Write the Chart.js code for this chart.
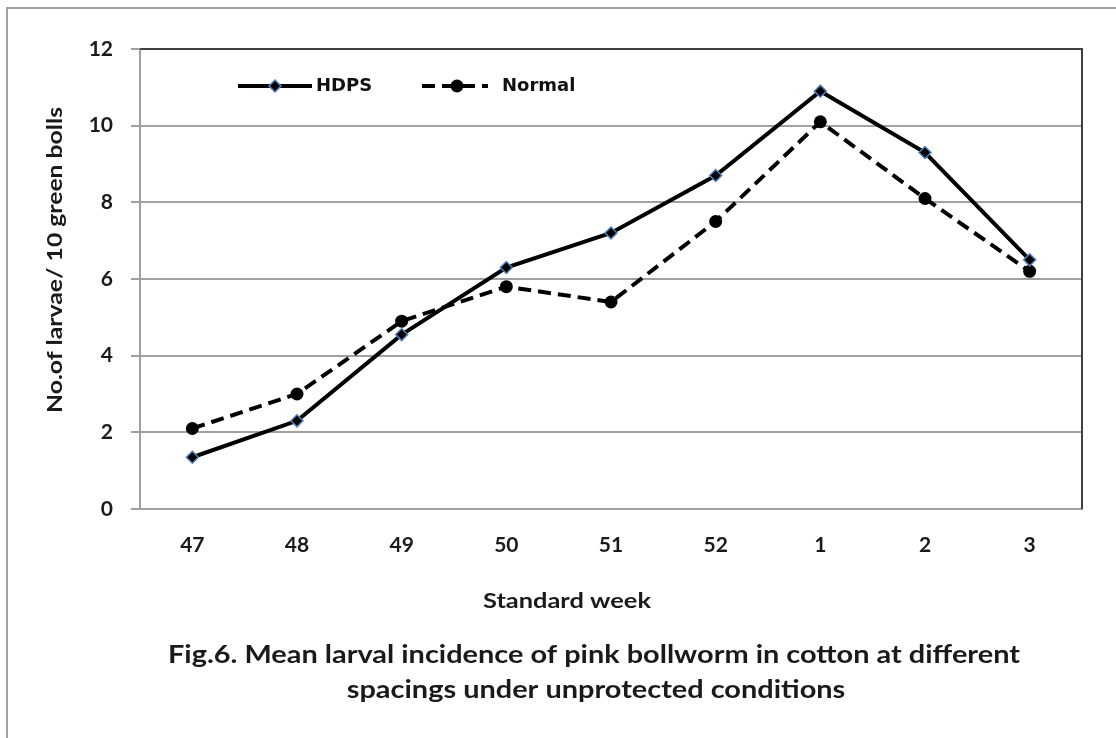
<!DOCTYPE html>
<html>
<head>
<meta charset="utf-8">
<script src="https://cdn.jsdelivr.net/npm/chart.js@4/dist/chart.umd.min.js"></script>
<style>
  body { margin: 0; background: #fff; }
  #frame { position: absolute; left: 6px; top: 7px; width: 1110px; height: 731px;
           border-left: 2px solid #a0a0a0; border-top: 2px solid #a0a0a0; }
  canvas { position: absolute; left: 0; top: 0; }
</style>
</head>
<body>
<div id="frame"></div>
<canvas id="chart" width="1116" height="738"></canvas>
<script>
const weeks = ['47', '48', '49', '50', '51', '52', '1', '2', '3'];
const hdps = [1.35, 2.3, 4.55, 6.3, 7.2, 8.7, 10.9, 9.3, 6.5];
const normal = [2.1, 3.0, 4.9, 5.8, 5.4, 7.5, 10.1, 8.1, 6.2];
const yTicks = [0, 2, 4, 6, 8, 10, 12];

const yTitle = 'No.of larvae/ 10 green bolls';
const xTitle = 'Standard week';
const figTitle = ['Fig.6. Mean larval incidence of pink bollworm in cotton at different',
                  'spacings under unprotected conditions'];

const captionFont = 'Lato, "Open Sans", sans-serif';

// draw text centred at (x, y), squeezed/stretched horizontally by sx
function drawStretched(ctx, text, x, y, sx) {
  ctx.save();
  ctx.translate(x, y);
  ctx.scale(sx, 1);
  ctx.fillText(text, 0, 0);
  ctx.restore();
}

// plot frame, legend and captions
const extras = {
  id: 'extras',
  afterDraw(chart) {
    const ctx = chart.ctx;
    const a = chart.chartArea;
    ctx.save();

    // dark top / right edge of the plot box
    ctx.strokeStyle = '#404040';
    ctx.lineWidth = 2;
    ctx.beginPath();
    ctx.moveTo(a.left, a.top);
    ctx.lineTo(a.right, a.top);
    ctx.lineTo(a.right, a.bottom);
    ctx.stroke();

    // legend
    const ly = a.top + 37;
    ctx.strokeStyle = '#000';
    ctx.lineWidth = 4;
    ctx.beginPath();
    ctx.moveTo(a.left + 98, ly);
    ctx.lineTo(a.left + 172, ly);
    ctx.stroke();
    ctx.fillStyle = '#000';
    ctx.beginPath();
    const dx = a.left + 135;
    ctx.moveTo(dx, ly - 6); ctx.lineTo(dx + 6, ly); ctx.lineTo(dx, ly + 6); ctx.lineTo(dx - 6, ly);
    ctx.closePath();
    ctx.fill();
    ctx.strokeStyle = '#4f81bd';
    ctx.lineWidth = 1.5;
    ctx.stroke();

    ctx.strokeStyle = '#000';
    ctx.lineWidth = 4;
    ctx.setLineDash([13, 7]);
    ctx.beginPath();
    ctx.moveTo(a.left + 282, ly);
    ctx.lineTo(a.left + 348, ly);
    ctx.stroke();
    ctx.setLineDash([]);
    ctx.beginPath();
    ctx.arc(a.left + 317, ly, 6.5, 0, Math.PI * 2);
    ctx.fill();

    ctx.font = 'bold 18px "DejaVu Sans", Verdana, sans-serif';
    ctx.textBaseline = 'middle';
    ctx.textAlign = 'left';
    ctx.fillStyle = '#111';
    ctx.fillText('HDPS', a.left + 176, ly);
    ctx.fillText('Normal', a.left + 362, ly);

    // axis titles
    ctx.fillStyle = '#1a1a1a';
    ctx.textAlign = 'center';
    ctx.font = 'bold 21px ' + captionFont;
    drawStretched(ctx, xTitle, 567, a.bottom + 92, 168 / ctx.measureText(xTitle).width);
    ctx.save();
    ctx.translate(55, 260);
    ctx.rotate(-Math.PI / 2);
    drawStretched(ctx, yTitle, 0, 0, 306 / ctx.measureText(yTitle).width);
    ctx.restore();

    // figure caption
    ctx.font = 'bold 25px ' + captionFont;
    const sx = 852 / ctx.measureText(figTitle[0]).width;
    drawStretched(ctx, figTitle[0], 594, 655, sx);
    drawStretched(ctx, figTitle[1], 596, 690, sx);
    ctx.restore();
  }
};

new Chart(document.getElementById('chart'), {
  type: 'line',
  data: {
    labels: weeks,
    datasets: [{
      label: 'HDPS',
      data: hdps,
      borderColor: '#000',
      borderWidth: 4,
      pointStyle: 'rectRot',
      pointRadius: 6,
      pointBackgroundColor: '#000',
      pointBorderColor: '#4f81bd',
      pointBorderWidth: 1.5,
      tension: 0
    }, {
      label: 'Normal',
      data: normal,
      borderColor: '#000',
      borderWidth: 4,
      borderDash: [13, 7],
      pointStyle: 'circle',
      pointRadius: 6.5,
      pointBackgroundColor: '#000',
      pointBorderColor: '#000',
      pointBorderWidth: 0,
      tension: 0
    }]
  },
  options: {
    responsive: false,
    animation: false,
    layout: { padding: { left: 40, top: 49, right: 34, bottom: 0 } },
    plugins: {
      legend: { display: false },
      tooltip: { enabled: false },
      title: { display: false }
    },
    scales: {
      x: {
        offset: true,
        grid: { display: false, drawTicks: false },
        border: { display: true, color: '#a0a0a0', width: 2 },
        ticks: { color: '#1a1a1a', padding: 24, font: { family: captionFont, size: 21, weight: 'bold' } },
        afterFit(scale) { scale.height = 229; }
      },
      y: {
        min: 0,
        max: 12,
        afterBuildTicks(scale) { scale.ticks = yTicks.map(v => ({ value: v })); },
        grid: { color: '#a0a0a0', lineWidth: 2, tickLength: 9 },
        border: { display: true, color: '#a0a0a0', width: 2 },
        ticks: { color: '#1a1a1a', padding: 18, font: { family: captionFont, size: 21, weight: 'bold' } },
        afterFit(scale) { scale.width = 100; }
      }
    }
  },
  plugins: [extras]
});
</script>
</body>
</html>
